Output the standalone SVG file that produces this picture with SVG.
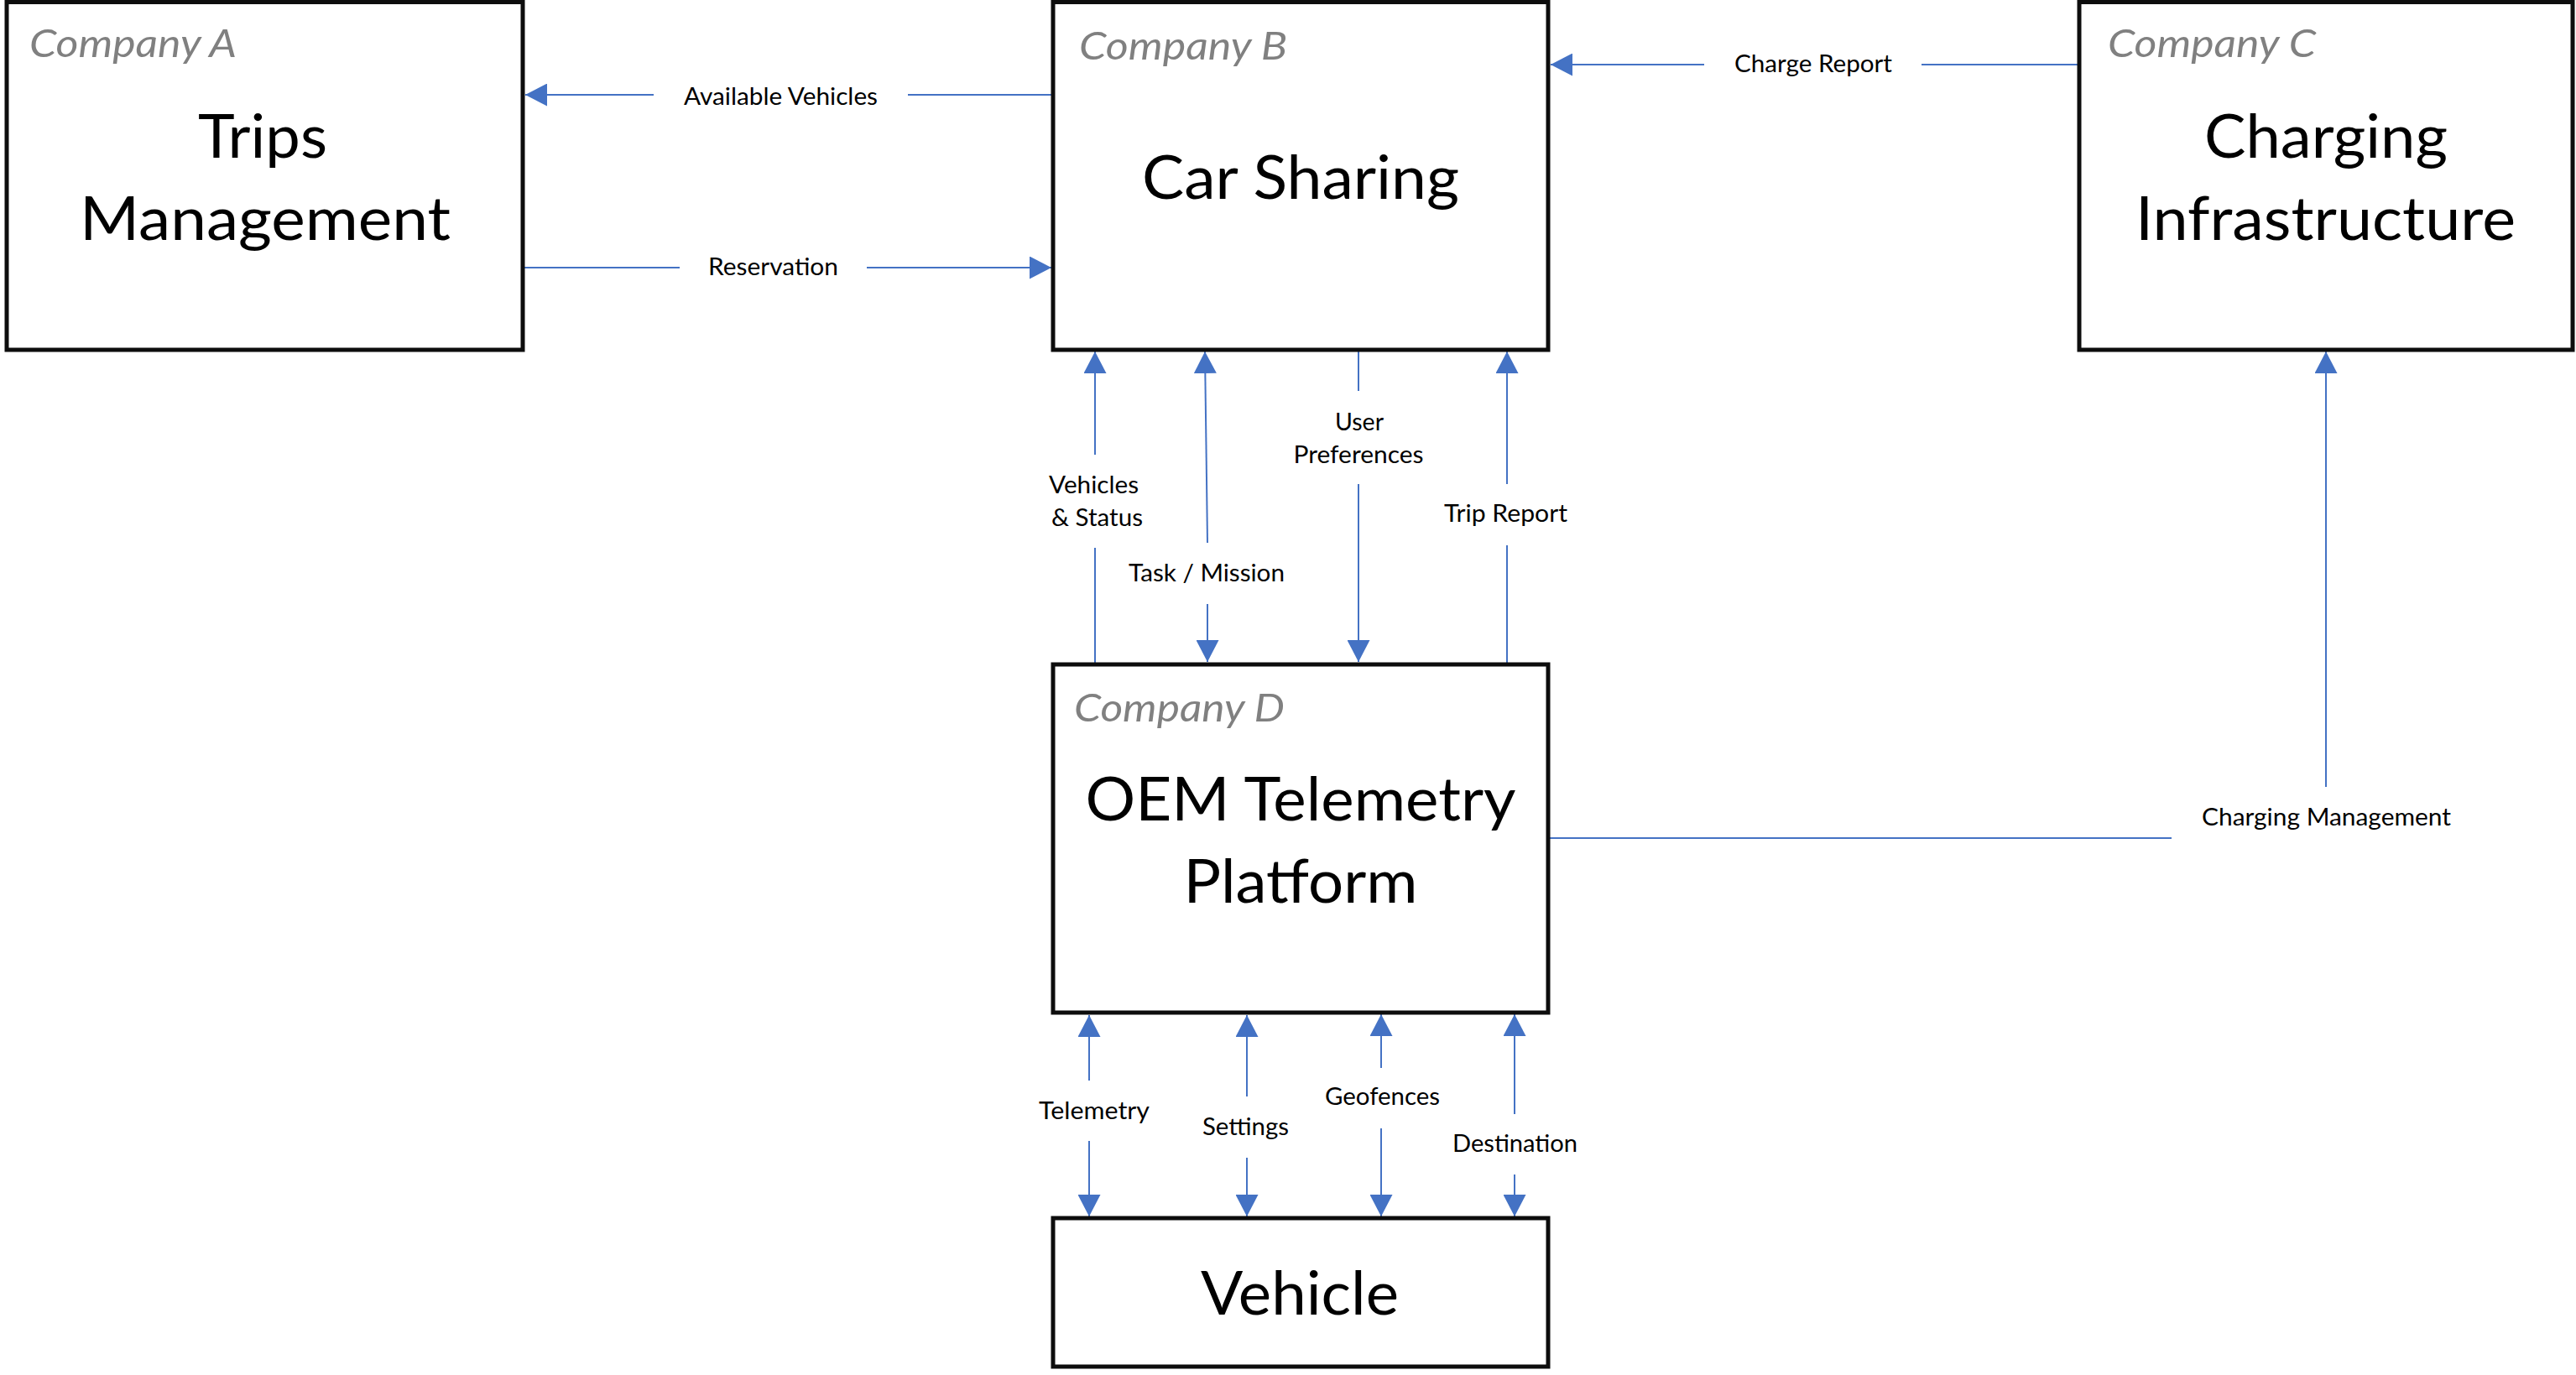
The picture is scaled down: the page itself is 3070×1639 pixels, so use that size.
<svg xmlns="http://www.w3.org/2000/svg" width="3070" height="1639" viewBox="0 0 3070 1639">
<defs>
<marker id="ah" markerUnits="userSpaceOnUse" markerWidth="26" markerHeight="27" viewBox="0 0 26 27" refX="26" refY="13.5" orient="auto">
<path d="M0,0 L26,13.5 L0,27 Z" fill="#4472C4"/>
</marker>
</defs>
<style>
.box{fill:#fff;stroke:#0d0d0d;stroke-width:5}
.co{font-family:Lato,"Open Sans","Liberation Sans",sans-serif;font-style:italic;font-size:46px;fill:#808080}
.big{font-family:Lato,"Open Sans","Liberation Sans",sans-serif;font-size:71px;fill:#000;text-anchor:middle}
.lbl{font-family:Lato,"Open Sans","Liberation Sans",sans-serif;font-size:28.5px;fill:#000;text-anchor:middle}
.cn{stroke:#4472C4;stroke-width:2;fill:none}
.ar{marker-end:url(#ah)}
</style>
<rect width="3070" height="1639" fill="#fff"/>
<g id="connectors">
<line class="cn" x1="1255" y1="113" x2="1082" y2="113"/>
<line class="cn ar" x1="779" y1="113" x2="626" y2="113"/>
<text class="lbl" x="930.5" y="125" textLength="231" lengthAdjust="spacingAndGlyphs">Available Vehicles</text>
<line class="cn" x1="623" y1="319" x2="810" y2="319"/>
<line class="cn ar" x1="1033" y1="319" x2="1253" y2="319"/>
<text class="lbl" x="921.5" y="328" textLength="155" lengthAdjust="spacingAndGlyphs">Reservation</text>
<line class="cn" x1="2478" y1="77" x2="2290" y2="77"/>
<line class="cn ar" x1="2031" y1="77" x2="1848" y2="77"/>
<text class="lbl" x="2161" y="86" textLength="188" lengthAdjust="spacingAndGlyphs">Charge Report</text>
<line class="cn" x1="1305" y1="792" x2="1305" y2="653"/>
<line class="cn ar" x1="1305" y1="542" x2="1305" y2="419"/>
<text class="lbl" x="1303.5" y="588" textLength="107" lengthAdjust="spacingAndGlyphs">Vehicles</text>
<text class="lbl" x="1307.5" y="627" textLength="109" lengthAdjust="spacingAndGlyphs">&amp; Status</text>
<line class="cn ar" x1="1439" y1="647" x2="1436" y2="419"/>
<line class="cn ar" x1="1439" y1="720" x2="1439" y2="789"/>
<text class="lbl" x="1438" y="693" textLength="186" lengthAdjust="spacingAndGlyphs">Task / Mission</text>
<line class="cn" x1="1619" y1="419" x2="1619" y2="466"/>
<line class="cn ar" x1="1619" y1="577" x2="1619" y2="789"/>
<text class="lbl" x="1620" y="513" textLength="58" lengthAdjust="spacingAndGlyphs">User</text>
<text class="lbl" x="1619" y="552" textLength="155" lengthAdjust="spacingAndGlyphs">Preferences</text>
<line class="cn" x1="1796" y1="792" x2="1796" y2="650"/>
<line class="cn ar" x1="1796" y1="577" x2="1796" y2="419"/>
<text class="lbl" x="1794.5" y="622" textLength="147" lengthAdjust="spacingAndGlyphs">Trip Report</text>
<line class="cn" x1="1847" y1="999" x2="2588" y2="999"/>
<line class="cn ar" x1="2772" y1="938" x2="2772" y2="419"/>
<text class="lbl" x="2772.5" y="984" textLength="297" lengthAdjust="spacingAndGlyphs">Charging Management</text>
<line class="cn ar" x1="1298" y1="1288" x2="1298" y2="1210"/>
<line class="cn ar" x1="1298" y1="1360" x2="1298" y2="1450"/>
<text class="lbl" x="1304" y="1334" textLength="132" lengthAdjust="spacingAndGlyphs">Telemetry</text>
<line class="cn ar" x1="1486" y1="1307" x2="1486" y2="1210"/>
<line class="cn ar" x1="1486" y1="1380" x2="1486" y2="1450"/>
<text class="lbl" x="1484.5" y="1353" textLength="103" lengthAdjust="spacingAndGlyphs">Settings</text>
<line class="cn ar" x1="1646" y1="1273" x2="1646" y2="1209"/>
<line class="cn ar" x1="1646" y1="1345" x2="1646" y2="1450"/>
<text class="lbl" x="1647.5" y="1317" textLength="137" lengthAdjust="spacingAndGlyphs">Geofences</text>
<line class="cn ar" x1="1805" y1="1328" x2="1805" y2="1209"/>
<line class="cn ar" x1="1805" y1="1400" x2="1805" y2="1450"/>
<text class="lbl" x="1805.5" y="1373" textLength="149" lengthAdjust="spacingAndGlyphs">Destination</text>
</g>
<g id="nodeA">
<rect class="box" x="8" y="2.5" width="615" height="414.5"/>
<text class="co" x="35" y="68" textLength="247" lengthAdjust="spacingAndGlyphs">Company A</text>
<text class="big" x="313" y="188" textLength="154" lengthAdjust="spacingAndGlyphs">Trips</text>
<text class="big" x="316" y="286" textLength="442" lengthAdjust="spacingAndGlyphs">Management</text>
</g>
<g id="nodeB">
<rect class="box" x="1255" y="2.5" width="590" height="414.5"/>
<text class="co" x="1286" y="71" textLength="248" lengthAdjust="spacingAndGlyphs">Company B</text>
<text class="big" x="1550" y="237" textLength="378" lengthAdjust="spacingAndGlyphs">Car Sharing</text>
</g>
<g id="nodeC">
<rect class="box" x="2478" y="2.5" width="588" height="414.5"/>
<text class="co" x="2512" y="68" textLength="248" lengthAdjust="spacingAndGlyphs">Company C</text>
<text class="big" x="2772" y="188" textLength="290" lengthAdjust="spacingAndGlyphs">Charging</text>
<text class="big" x="2771.5" y="286" textLength="453" lengthAdjust="spacingAndGlyphs">Infrastructure</text>
</g>
<g id="nodeD">
<rect class="box" x="1255" y="792" width="590" height="415"/>
<text class="co" x="1280" y="860" textLength="251" lengthAdjust="spacingAndGlyphs">Company D</text>
<text class="big" x="1550" y="978" textLength="513" lengthAdjust="spacingAndGlyphs">OEM Telemetry</text>
<text class="big" x="1550" y="1076" textLength="279" lengthAdjust="spacingAndGlyphs">Platform</text>
</g>
<g id="nodeVehicle">
<rect class="box" x="1255" y="1452" width="590" height="177"/>
<text class="big" x="1549" y="1567" textLength="236" lengthAdjust="spacingAndGlyphs">Vehicle</text>
</g>
</svg>
